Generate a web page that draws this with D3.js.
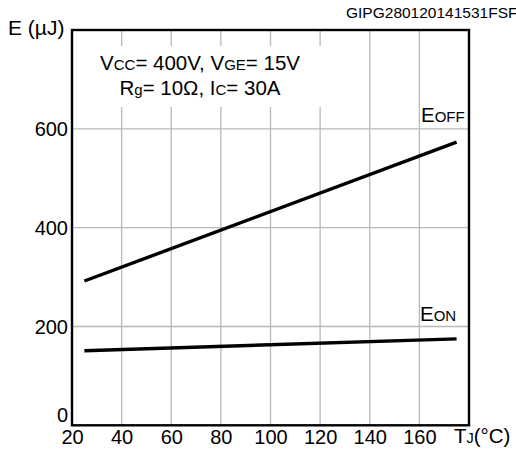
<!DOCTYPE html>
<html><head><meta charset="utf-8">
<script src="https://cdn.jsdelivr.net/npm/d3@7/dist/d3.min.js"></script>
<style>body{margin:0;background:#fff}svg{display:block}text{font-family:"Liberation Sans",Arial,Helvetica,sans-serif;fill:#000}</style>
</head><body><svg id="c" width="516" height="450"></svg>
<script>
const tempPoints = [25, 175];
const eoffValues = [292, 573];
const eonValues = [151, 175];
const xTickValues = [20, 40, 60, 80, 100, 120, 140, 160];
const yTickValues = [0, 200, 400, 600];
const seriesNames = ["EOFF", "EON"];

const svg = d3.select("#c");
const L = 72, R = 469, T = 30, B = 425.3;
const x = d3.scaleLinear().domain([20, 180]).range([L, R]);
const y = d3.scaleLinear().domain([0, 800]).range([B, T]);

// grid
svg.append("g").selectAll("line").data(xTickValues.filter(d => d > 20)).join("line")
  .attr("x1", d => x(d)).attr("x2", d => x(d)).attr("y1", T).attr("y2", B)
  .attr("stroke", "#b8b8b8").attr("stroke-width", 1.3);
svg.append("g").selectAll("line").data(yTickValues.filter(d => d > 0)).join("line")
  .attr("x1", L).attr("x2", R).attr("y1", d => y(d)).attr("y2", d => y(d))
  .attr("stroke", "#b8b8b8").attr("stroke-width", 1.3);

// annotation background
svg.append("rect").attr("x", L + 1).attr("y", 46).attr("width", 257).attr("height", 61).attr("fill", "#fff");

// lines
const line = d3.line().x(d => x(d[0])).y(d => y(d[1]));
[eoffValues, eonValues].forEach(vals => {
  svg.append("path").datum(tempPoints.map((t, i) => [t, vals[i]]))
    .attr("d", line).attr("fill", "none").attr("stroke", "#000").attr("stroke-width", 3.4);
});

// frame
svg.append("rect").attr("x", L).attr("y", T).attr("width", R - L).attr("height", B - T)
  .attr("fill", "none").attr("stroke", "#000").attr("stroke-width", 2.4);

// axes labels via d3 axes
const xa = svg.append("g").attr("transform", `translate(0,${B})`)
  .call(d3.axisBottom(x).tickValues(xTickValues).tickSize(0).tickFormat(d3.format("d")));
xa.select(".domain").remove();
xa.selectAll("text").attr("font-size", 20).attr("dy", "0.8em").attr("y", 2.5)
  .style("font-family", '"Liberation Sans",Arial,sans-serif').attr("fill", "#000");

const ya = svg.append("g").attr("transform", `translate(${L},0)`)
  .call(d3.axisLeft(y).tickValues(yTickValues).tickSize(0).tickFormat(d3.format("d")));
ya.select(".domain").remove();
ya.selectAll("text").attr("font-size", 20).attr("x", -4)
  .attr("dy", d => d === 0 ? "-0.18em" : "0.35em")
  .style("font-family", '"Liberation Sans",Arial,sans-serif').attr("fill", "#000");

// axis titles
svg.append("text").attr("x", 8).attr("y", 35).attr("font-size", 21).text("E (µJ)");
const tx = svg.append("text").attr("x", 454).attr("y", 443).attr("font-size", 20.5);
tx.append("tspan").text("T");
tx.append("tspan").attr("font-size", 14.5).text("J");
tx.append("tspan").text("(°C)");

svg.append("text").attr("x", 346).attr("y", 18).attr("font-size", 15.5)
  .text("GIPG280120141531FSF");

// annotation
const a1 = svg.append("text").attr("x", 200).attr("y", 70).attr("font-size", 20.5).attr("text-anchor", "middle");
a1.append("tspan").text("V"); a1.append("tspan").attr("font-size", 15).text("CC");
a1.append("tspan").text("= 400V, V"); a1.append("tspan").attr("font-size", 15).text("GE");
a1.append("tspan").text("= 15V");
const a2 = svg.append("text").attr("x", 200).attr("y", 95).attr("font-size", 20.5).attr("text-anchor", "middle");
a2.append("tspan").text("R"); a2.append("tspan").attr("font-size", 15).text("g");
a2.append("tspan").text("= 10Ω, I"); a2.append("tspan").attr("font-size", 15).text("C");
a2.append("tspan").text("= 30A");

// series labels
const labelPos = [[421, 122], [420, 321]];
seriesNames.forEach((n, i) => {
  const t = svg.append("text").attr("x", labelPos[i][0]).attr("y", labelPos[i][1]).attr("font-size", 20.5);
  t.append("tspan").text(n[0]);
  t.append("tspan").attr("font-size", 15).text(n.slice(1));
});
</script></body></html>
